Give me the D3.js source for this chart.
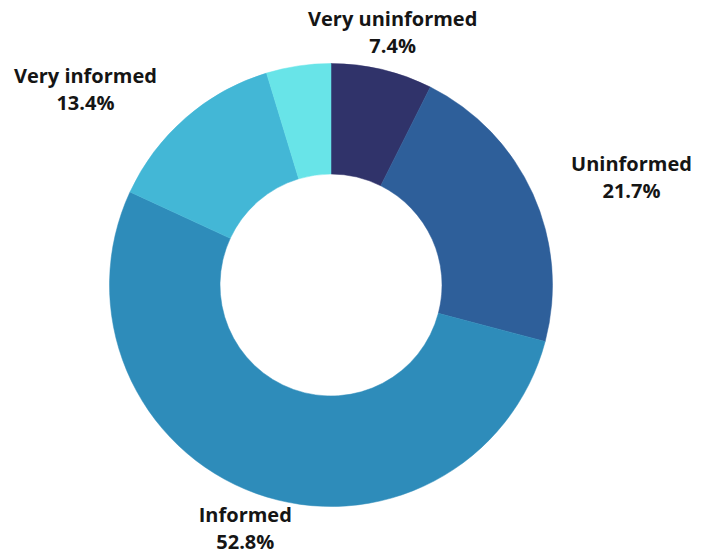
<!DOCTYPE html>
<html>
<head>
<meta charset="utf-8">
<script src="https://cdn.jsdelivr.net/npm/d3@7/dist/d3.min.js"></script>
<style>
  html, body { margin: 0; padding: 0; background: #ffffff; }
  svg { display: block; }
</style>
</head>
<body>
<svg id="chart" width="706" height="556"></svg>
<script>
// Survey responses: how informed respondents feel
const categories = ["Very uninformed", "Uninformed", "Informed", "Very informed", ""];
const shares = [7.4, 21.7, 52.8, 13.4, 4.7];
const colors = ["#30336a", "#2e5f9a", "#2e8cba", "#43b7d6", "#68e4e8"];
const showLabel = [true, true, true, true, false];

const data = categories.map((c, i) => ({ name: c, value: shares[i], color: colors[i], label: showLabel[i] }));

const width = 706, height = 556;
const cx = 331, cy = 285;
const outerR = 221.5, innerR = 111;
const labelR = 259;

const svg = d3.select("#chart");
const g = svg.append("g").attr("transform", `translate(${cx},${cy})`);

const pie = d3.pie().sort(null).value(d => d.value);
const arc = d3.arc().innerRadius(innerR).outerRadius(outerR);
const arcs = pie(data);

g.selectAll("path.slice")
  .data(arcs)
  .join("path")
  .attr("class", "slice")
  .attr("d", arc)
  .attr("fill", d => d.data.color)
  .attr("stroke", d => d.data.color)
  .attr("stroke-width", 0.5);

// Labels: centred two-line block (name, percentage); side labels are pushed
// outward so the block's inner edge sits at the anchor point
g.selectAll("text.label")
  .data(arcs.filter(d => d.data.label))
  .join("text")
  .attr("class", "label")
  .attr("font-family", "'Open Sans', sans-serif")
  .attr("font-weight", 700)
  .attr("font-size", 20)
  .attr("fill", "#151515")
  .attr("text-anchor", "middle")
  .each(function(d) {
    const a = (d.startAngle + d.endAngle) / 2;
    const s = Math.sin(a), c = -Math.cos(a);
    const y = labelR * c;
    const t = d3.select(this);
    const l1 = t.append("tspan").attr("y", y - 7).text(d.data.name);
    const l2 = t.append("tspan").attr("y", y + 20).text(d3.format(".1f")(d.data.value) + "%");
    const w = Math.max(l1.node().getComputedTextLength(), l2.node().getComputedTextLength());
    let x = labelR * s + (Math.abs(s) > 0.5 ? 0 : 2);
    if (Math.abs(s) > 0.5) x += Math.sign(s) * (w / 2 + 4);
    l1.attr("x", x);
    l2.attr("x", x);
  });
</script>
</body>
</html>
